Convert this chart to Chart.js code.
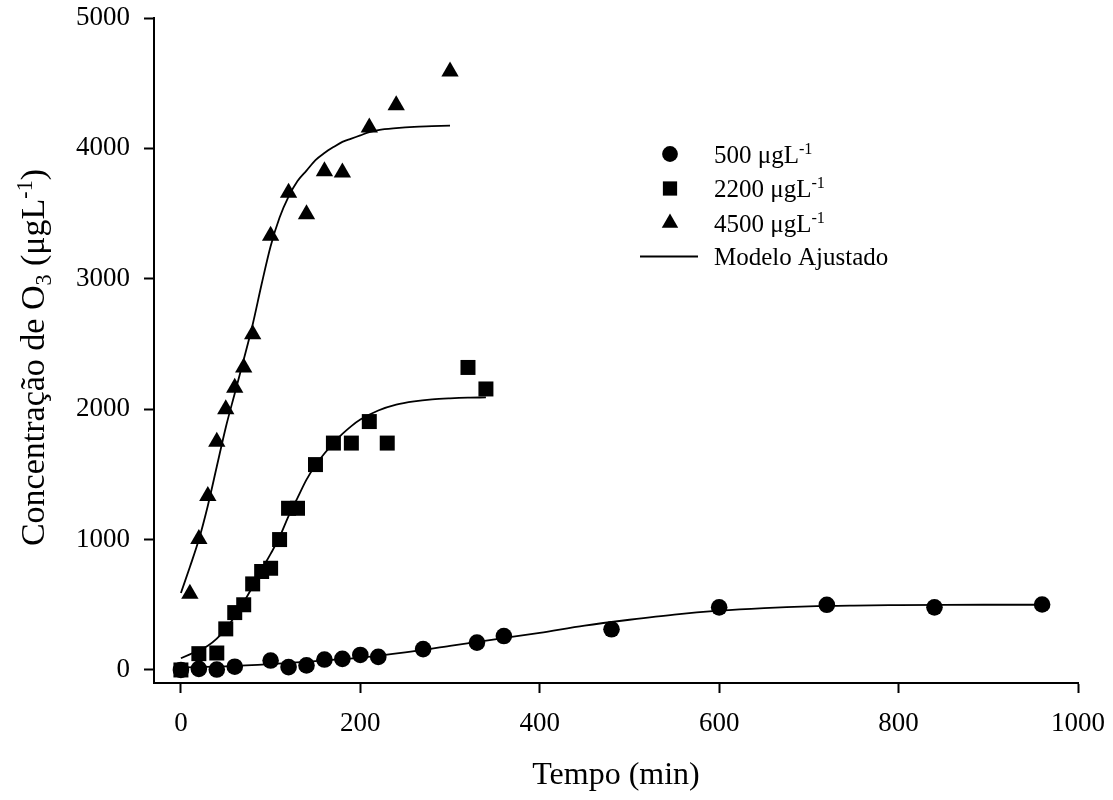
<!DOCTYPE html>
<html>
<head>
<meta charset="utf-8">
<script src="https://cdn.jsdelivr.net/npm/chart.js@4.4.0/dist/chart.umd.min.js"></script>
<style>
html, body { margin: 0; padding: 0; background: #fff; }
</style>
</head>
<body>
<canvas id="ozoneChart" width="1113" height="800"></canvas>
<script>
const FONT = '"Liberation Serif", "Times New Roman", serif';

// measured points, 500 ug/L
const tempo500 = [0, 20, 40, 60, 100, 120, 140, 160, 180, 200, 220, 270, 330, 360, 480, 600, 720, 840, 960];
const conc500 = [0, 8, 3, 25, 72, 22, 35, 80, 85, 115, 100, 160, 210, 260, 312, 480, 500, 480, 502];

// measured points, 2200 ug/L
const tempo2200 = [0, 20, 40, 50, 60, 70, 80, 90, 100, 110, 120, 130, 150, 170, 190, 210, 230, 320, 340];
const conc2200 = [0, 125, 130, 315, 440, 500, 660, 755, 780, 1000, 1240, 1240, 1575, 1740, 1740, 1905, 1740, 2320, 2155];

// measured points, 4500 ug/L
const tempo4500 = [10, 20, 30, 40, 50, 60, 70, 80, 100, 120, 140, 160, 180, 210, 240, 300];
const conc4500 = [585, 1005, 1335, 1750, 2000, 2165, 2320, 2575, 3330, 3660, 3495, 3825, 3815, 4160, 4330, 4590];

// fitted model curves
const tempoAjuste500 = [0, 50, 100, 150, 200, 250, 300, 350, 400, 450, 500, 550, 600, 650, 700, 750, 800, 850, 900, 960];
const ajuste500 = [20, 28, 45, 68, 95, 135, 185, 235, 285, 340, 385, 425, 455, 475, 488, 494, 497, 499, 500, 500];

const tempoAjuste2200 = [0, 10, 20, 30, 40, 50, 60, 70, 80, 90, 100, 110, 120, 130, 140, 150, 160, 170, 180, 190, 200, 220, 240, 260, 280, 300, 320, 340];
const ajuste2200 = [90, 120, 150, 185, 240, 315, 410, 520, 640, 770, 890, 1020, 1180, 1320, 1460, 1570, 1660, 1740, 1810, 1870, 1920, 1990, 2035, 2060, 2075, 2083, 2088, 2090];

const tempoAjuste4500 = [0, 10, 20, 30, 40, 50, 60, 70, 80, 90, 100, 110, 120, 130, 140, 150, 160, 170, 180, 190, 200, 210, 220, 240, 260, 280, 300];
const ajuste4500 = [590, 790, 1000, 1260, 1560, 1860, 2120, 2380, 2650, 2960, 3250, 3470, 3630, 3750, 3830, 3910, 3965, 4010, 4050, 4075, 4100, 4125, 4140, 4155, 4165, 4170, 4175];

const xTicks = [0, 200, 400, 600, 800, 1000];
const yTicks = [0, 1000, 2000, 3000, 4000, 5000];

function pares(xs, ys) {
    return xs.map((x, i) => ({x: x, y: ys[i]}));
}

function serie(label, xs, ys, estilo, raio) {
    return {
        label: label,
        data: pares(xs, ys),
        showLine: false,
        pointStyle: estilo,
        pointRadius: raio,
        pointBackgroundColor: '#000',
        pointBorderColor: '#000',
        pointBorderWidth: 0,
        clip: false
    };
}

function ajuste(xs, ys) {
    return {
        label: 'Modelo Ajustado',
        data: pares(xs, ys),
        showLine: true,
        pointRadius: 0,
        borderColor: '#000',
        borderWidth: 1.8,
        cubicInterpolationMode: 'monotone',
        fill: false,
        isFit: true
    };
}

// text with sub/superscripts: ⁻¹ -> superscript, ₃ -> subscript
function partes(texto) {
    const out = [];
    let buf = '';
    for (const ch of texto) {
        if (ch === '⁻' || ch === '¹') {
            if (buf) { out.push({t: buf}); buf = ''; }
            const last = out[out.length - 1];
            const c = ch === '⁻' ? '-' : '1';
            if (last && last.sup) last.t += c; else out.push({t: c, sup: true});
        } else if (ch === '₃') {
            if (buf) { out.push({t: buf}); buf = ''; }
            out.push({t: '3', sub: true});
        } else {
            buf += ch;
        }
    }
    if (buf) out.push({t: buf});
    return out;
}

function larguraRica(ctx, ps, size) {
    let w = 0;
    ps.forEach(p => {
        ctx.font = ((p.sup || p.sub) ? size * 0.65 : size) + 'px ' + FONT;
        w += ctx.measureText(p.t).width;
    });
    return w;
}

function desenhaRico(ctx, ps, x, y, size) {
    let cx = x;
    ps.forEach(p => {
        const s = (p.sup || p.sub) ? size * 0.65 : size;
        const dy = p.sup ? -size * 0.36 : (p.sub ? size * 0.2 : 0);
        ctx.font = s + 'px ' + FONT;
        ctx.fillText(p.t, cx, y + dy);
        cx += ctx.measureText(p.t).width;
    });
}

function marcador(ctx, estilo, r, x, y) {
    ctx.beginPath();
    if (estilo === 'circle') {
        ctx.arc(x, y, r, 0, Math.PI * 2);
    } else if (estilo === 'rect') {
        const s = r * Math.SQRT1_2;
        ctx.rect(x - s, y - s, 2 * s, 2 * s);
    } else if (estilo === 'triangle') {
        ctx.moveTo(x, y - r);
        ctx.lineTo(x + r * Math.sin(Math.PI / 3), y + r / 2);
        ctx.lineTo(x - r * Math.sin(Math.PI / 3), y + r / 2);
    }
    ctx.closePath();
    ctx.fill();
}

const yTitulo = 'Concentração de O₃ (μgL⁻¹)';

const extras = {
    id: 'extras',
    afterDraw(chart) {
        const ctx = chart.ctx;
        const area = chart.chartArea;
        ctx.save();
        ctx.fillStyle = '#000';
        ctx.strokeStyle = '#000';
        ctx.textBaseline = 'alphabetic';

        // y axis title
        const ps = partes(yTitulo);
        const tam = 34;
        const w = larguraRica(ctx, ps, tam);
        ctx.save();
        ctx.translate(44, (area.top + area.bottom) / 2 + 7);
        ctx.rotate(-Math.PI / 2);
        desenhaRico(ctx, ps, -w / 2, 0, tam);
        ctx.restore();

        // legend
        const lx = 670, tx = 714, y0 = 154, gap = 34.5, ts = 25;
        let row = 0;
        chart.data.datasets.forEach(ds => {
            if (ds.isFit) return;
            const yy = y0 + row * gap;
            marcador(ctx, ds.pointStyle, ds.pointRadius * 0.95, lx, yy);
            desenhaRico(ctx, partes(ds.label), tx, yy + ts * 0.34, ts);
            row++;
        });
        const fit = chart.data.datasets.find(ds => ds.isFit);
        const yy = y0 + row * gap - 1;
        ctx.lineWidth = 1.8;
        ctx.beginPath();
        ctx.moveTo(640, yy);
        ctx.lineTo(698, yy);
        ctx.stroke();
        desenhaRico(ctx, partes(fit.label), tx, yy + ts * 0.34, ts);
        ctx.restore();
    }
};

const canvas = document.getElementById('ozoneChart').getContext('2d');
const config = {
    type: 'scatter',
    data: {
        datasets: [
            serie('500 μgL⁻¹', tempo500, conc500, 'circle', 8.3),
            serie('2200 μgL⁻¹', tempo2200, conc2200, 'rect', 10.6),
            serie('4500 μgL⁻¹', tempo4500, conc4500, 'triangle', 10),
            ajuste(tempoAjuste500, ajuste500),
            ajuste(tempoAjuste2200, ajuste2200),
            ajuste(tempoAjuste4500, ajuste4500)
        ]
    },
    options: {
        responsive: false,
        animation: false,
        layout: {padding: {top: 18, right: 35, left: 0, bottom: 0}},
        plugins: {
            legend: {display: false},
            tooltip: {enabled: false}
        },
        scales: {
            x: {
                type: 'linear',
                min: -30,
                max: 1000,
                afterBuildTicks: scale => { scale.ticks = xTicks.map(v => ({value: v})); },
                afterFit: scale => {
                    scale.height = 117;
                    scale.paddingLeft = 0;
                    scale.paddingRight = 0;
                },
                ticks: {
                    color: '#000',
                    font: {family: FONT, size: 27},
                    padding: 15,
                    maxRotation: 0,
                    callback: v => String(v)
                },
                grid: {
                    display: true,
                    drawOnChartArea: false,
                    drawTicks: true,
                    tickLength: 10,
                    tickWidth: 2,
                    tickColor: '#000'
                },
                border: {display: true, color: '#000', width: 2},
                title: {
                    display: true,
                    text: 'Tempo (min)',
                    color: '#000',
                    font: {family: FONT, size: 32},
                    padding: {top: 0, bottom: 5}
                }
            },
            y: {
                type: 'linear',
                min: -100,
                max: 5000,
                afterBuildTicks: scale => { scale.ticks = yTicks.map(v => ({value: v})); },
                afterFit: scale => {
                    scale.width = 154;
                    scale.paddingTop = 0;
                    scale.paddingBottom = 0;
                },
                ticks: {
                    color: '#000',
                    font: {family: FONT, size: 27},
                    padding: 14,
                    callback: v => String(v)
                },
                grid: {
                    display: true,
                    drawOnChartArea: false,
                    drawTicks: true,
                    tickLength: 10,
                    tickWidth: 2,
                    tickColor: '#000'
                },
                border: {display: true, color: '#000', width: 2}
            }
        }
    },
    plugins: [extras]
};
var chart = new Chart(canvas, config);
</script>
</body>
</html>
